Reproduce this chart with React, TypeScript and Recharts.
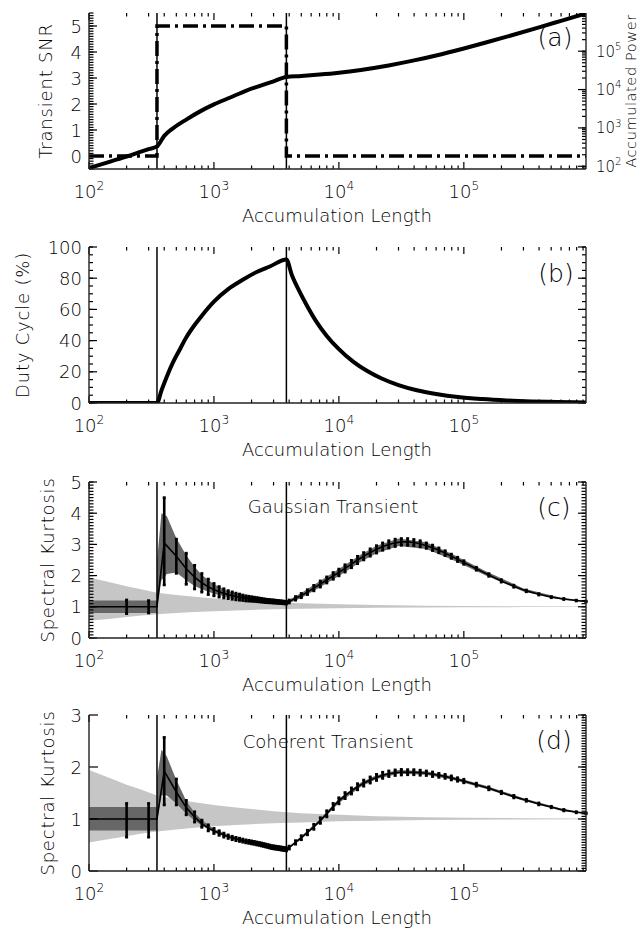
import React from 'react';
import { ComposedChart, Line, Area, XAxis, YAxis, ReferenceLine, ErrorBar } from 'recharts';

const FONT = '"DejaVu Sans", "Liberation Sans", sans-serif';
const INK = '#000';
const LIGHT = '#c6c6c6';
const DARK = '#676767';

// transient edges, in samples
const transientStart = 350;
const transientEnd = 3800;

// shared x axis (accumulation length)
const xDomain = [100, 950000];
const xDecades = [100, 1000, 10000, 100000];

// (a) transient SNR (left axis) and accumulated power (right axis)
const snrN = [100, 350, 350, 3800, 3800, 950000];
const snrVal = [0, 0, 5, 5, 0, 0];
const powN = [100, 150, 200, 250, 300, 350, 400, 475, 600, 775, 1000, 1350, 1800, 2400, 3000, 3800, 5000, 7000, 10000, 15000, 25000, 40000, 60000, 100000, 150000, 250000, 400000, 600000, 950000];
const powVal = [90, 135, 180, 230, 280, 330, 620, 1000, 1650, 2700, 4100, 6200, 9300, 12800, 16400, 21300, 22600, 24600, 27500, 32500, 42500, 57500, 77500, 118000, 168000, 268000, 418000, 620000, 970000];

// (b) duty cycle (%)
const dutyN = [100, 350, 380, 420, 470, 530, 600, 700, 800, 1000, 1300, 1700, 2200, 2800, 3800, 4200, 4800, 5500, 6500, 8000, 10000, 13000, 17000, 22000, 30000, 42000, 60000, 90000, 140000, 220000, 350000, 550000, 950000];
const dutyVal = [0, 0, 8, 17, 26, 34, 42, 50, 56, 65, 73, 79, 84, 87.5, 92, 82, 72, 63, 53, 43, 34.5, 26.5, 20.3, 15.7, 11.5, 8.2, 5.8, 3.8, 2.5, 1.6, 1.0, 0.63, 0.36];

// (c),(d) spectral kurtosis: sample points with error bars
const skN = [100, 200, 300, 350,
  400, 500, 600, 700, 800, 900, 1000, 1100, 1200, 1300, 1400, 1500, 1600, 1700, 1800, 1900, 2000, 2100, 2200, 2300, 2400, 2500, 2600, 2700, 2800, 2900, 3000, 3100, 3200, 3300, 3400, 3500, 3600, 3700, 3800,
  4000, 4500, 5000, 5600, 6300, 7100, 8000, 9000, 10000, 11200, 12600, 14100, 15800, 17800, 20000, 22400, 25100, 28200, 31600, 35500, 39800, 44700, 50100, 56200, 63100, 70800, 79400, 89100,
  100000, 125900, 158500, 199500, 251200, 316200, 398100, 501200, 631000, 794300, 950000];

const gaussMean = [1, 1, 1, 1,
  3.05, 2.62, 2.22, 1.95, 1.77, 1.64, 1.55, 1.48, 1.43, 1.39, 1.36, 1.33, 1.31, 1.29, 1.27, 1.26, 1.25, 1.24, 1.23, 1.22, 1.21, 1.2, 1.19, 1.185, 1.18, 1.175, 1.17, 1.165, 1.16, 1.155, 1.15, 1.145, 1.14, 1.135, 1.13,
  1.17, 1.27, 1.36, 1.47, 1.6, 1.73, 1.86, 1.99, 2.1, 2.23, 2.37, 2.5, 2.62, 2.74, 2.84, 2.93, 3.0, 3.05, 3.08, 3.08, 3.06, 3.02, 2.96, 2.89, 2.81, 2.72, 2.62, 2.52,
  2.42, 2.22, 2.02, 1.83, 1.66, 1.51, 1.4, 1.31, 1.25, 1.2, 1.17];
const gaussErr: (number | number[])[] = [0, 0.22, 0.2, 0,
  [1.35, 1.45], 0.55, 0.5, 0.38, 0.3, 0.25, 0.2, 0.17, 0.15, 0.13, 0.12, 0.11, 0.1, 0.09, 0.085, 0.08, 0.075, 0.07, 0.068, 0.065, 0.062, 0.06, 0.058, 0.056, 0.054, 0.052, 0.05, 0.05, 0.048, 0.047, 0.046, 0.045, 0.044, 0.043, 0.042,
  0.05, 0.06, 0.07, 0.08, 0.09, 0.1, 0.1, 0.11, 0.11, 0.12, 0.12, 0.12, 0.12, 0.12, 0.12, 0.12, 0.12, 0.12, 0.11, 0.11, 0.1, 0.1, 0.09, 0.09, 0.08, 0.08, 0.07, 0.07,
  0.06, 0.05, 0.045, 0.04, 0.035, 0.03, 0.025, 0.02, 0.02, 0.015, 0.015];

const cohMean = [1, 1, 1, 1,
  1.92, 1.52, 1.22, 1.04, 0.91, 0.83, 0.77, 0.73, 0.69, 0.66, 0.635, 0.615, 0.6, 0.585, 0.57, 0.56, 0.55, 0.54, 0.53, 0.52, 0.51, 0.5, 0.49, 0.48, 0.47, 0.46, 0.455, 0.45, 0.445, 0.44, 0.435, 0.43, 0.425, 0.42, 0.415,
  0.45, 0.55, 0.64, 0.74, 0.85, 0.97, 1.1, 1.24, 1.35, 1.45, 1.54, 1.62, 1.69, 1.75, 1.8, 1.84, 1.87, 1.89, 1.9, 1.9, 1.9, 1.89, 1.88, 1.86, 1.84, 1.82, 1.79, 1.76,
  1.73, 1.66, 1.59, 1.51, 1.43, 1.36, 1.29, 1.23, 1.17, 1.13, 1.11];
const cohErr: (number | number[])[] = [0, [0.35, 0.3], [0.35, 0.3], 0,
  [0.65, 0.65], 0.25, 0.14, 0.1, 0.07, 0.06, 0.05, 0.045, 0.04, 0.035, 0.034, 0.033, 0.032, 0.031, 0.03, 0.03, 0.03, 0.03, 0.03, 0.03, 0.03, 0.03, 0.03, 0.03, 0.03, 0.03, 0.03, 0.03, 0.03, 0.03, 0.03, 0.03, 0.03, 0.03, 0.03,
  0.03, 0.035, 0.04, 0.045, 0.05, 0.055, 0.06, 0.06, 0.06, 0.06, 0.06, 0.06, 0.06, 0.06, 0.06, 0.06, 0.055, 0.055, 0.055, 0.05, 0.05, 0.05, 0.045, 0.045, 0.04, 0.04, 0.04, 0.035,
  0.035, 0.03, 0.03, 0.025, 0.025, 0.02, 0.02, 0.015, 0.015, 0.012, 0.01];

// spread of the simulated SK values (dark band)
const darkN = [100, 350, 351, 380, 420, 500, 600, 700, 800, 1000, 1300, 1800, 2500, 3800, 5000, 7000, 10000, 15000, 20000, 30000, 50000, 80000, 150000, 300000, 600000, 950000];
const gaussDarkLo = [0.8, 0.8, 1.0, 1.85, 2.05, 2.1, 1.85, 1.67, 1.56, 1.42, 1.3, 1.22, 1.15, 1.08, 1.28, 1.62, 1.99, 2.44, 2.72, 2.95, 2.85, 2.52, 2.0, 1.49, 1.23, 1.15];
const gaussDarkHi = [1.2, 1.2, 2.5, 4.0, 3.9, 3.2, 2.65, 2.28, 2.02, 1.72, 1.5, 1.35, 1.27, 1.18, 1.44, 1.82, 2.21, 2.68, 2.96, 3.19, 3.07, 2.7, 2.14, 1.59, 1.29, 1.19];
const cohDarkLo = [0.78, 0.78, 1.0, 1.45, 1.45, 1.3, 1.1, 0.97, 0.87, 0.74, 0.64, 0.55, 0.48, 0.4, 0.61, 0.93, 1.31, 1.62, 1.77, 1.87, 1.85, 1.76, 1.58, 1.35, 1.16, 1.1];
const cohDarkHi = [1.23, 1.23, 1.8, 2.33, 2.2, 1.75, 1.35, 1.12, 0.98, 0.81, 0.69, 0.59, 0.51, 0.43, 0.67, 0.99, 1.39, 1.7, 1.84, 1.94, 1.92, 1.82, 1.64, 1.4, 1.2, 1.12];

// noise-only SK threshold band (light band)
const lightN = [100, 150, 200, 250, 350, 500, 700, 1000, 1500, 2000, 3000, 5000, 10000, 20000, 50000, 100000, 300000, 950000];
const lightLo = [0.55, 0.62, 0.67, 0.71, 0.76, 0.8, 0.83, 0.86, 0.885, 0.9, 0.92, 0.935, 0.955, 0.967, 0.98, 0.985, 0.99, 0.995];
const lightHi = [1.94, 1.78, 1.66, 1.58, 1.45, 1.38, 1.32, 1.27, 1.22, 1.19, 1.15, 1.11, 1.08, 1.055, 1.035, 1.025, 1.015, 1.008];

// ---- tables for recharts ----
const zipXY = (xs: number[], ys: number[]) => xs.map((n, i) => ({ n, v: ys[i] }));
const zipBand = (xs: number[], lo: number[], hi: number[]) => xs.map((n, i) => ({ n, band: [lo[i], hi[i]] }));
const zipErr = (xs: number[], m: number[], e: (number | number[])[]) => xs.map((n, i) => ({ n, v: m[i], err: e[i] }));

const snrData = zipXY(snrN, snrVal);
const powData = zipXY(powN, powVal);
const dutyData = zipXY(dutyN, dutyVal);
const lightData = zipBand(lightN, lightLo, lightHi);
const gaussDark = zipBand(darkN, gaussDarkLo, gaussDarkHi);
const cohDark = zipBand(darkN, cohDarkLo, cohDarkHi);
const gaussData = zipErr(skN, gaussMean, gaussErr);
const cohData = zipErr(skN, cohMean, cohErr);

// ---- ticks ----
const logTicks = (decades: number[], lo: number, hi: number) =>
  decades.flatMap(d => [1, 2, 3, 4, 5, 6, 7, 8, 9].map(k => k * d)).filter(v => v >= lo && v <= hi);
const linTicks = (lo: number, hi: number, step: number) => {
  const n = Math.round((hi - lo) / step);
  return Array.from({ length: n + 1 }, (_, i) => +(lo + i * step).toFixed(4));
};

const xTicks = logTicks(xDecades, xDomain[0], xDomain[1]);

// plot box size in px, used to turn tick lengths into data units
const PLOT_W = 497;
const PLOT_H = 156;
const xSpan = Math.log10(xDomain[1] / xDomain[0]);
const xFromLeft = (px: number) => xDomain[0] * Math.pow(10, (px / PLOT_W) * xSpan);
const xFromRight = (px: number) => xDomain[1] / Math.pow(10, (px / PLOT_W) * xSpan);

const Pow = ({ v, size }: { v: number; size: number }) => (
  <>
    <tspan>10</tspan>
    <tspan dy={-size * 0.45} fontSize={size * 0.68}>{Math.round(Math.log10(v))}</tspan>
  </>
);

function AxisLabel(props: any) {
  const { x, y, payload, side, labeled, log, fontSize } = props;
  if (!labeled) return <g />;
  const v = payload.value;
  const fs = fontSize || 18;
  const common = { fontSize: fs, fontFamily: FONT, fontWeight: 300, fill: INK };
  if (side === 'bottom')
    return <text x={x} y={y + 29} textAnchor="middle" {...common}><Pow v={v} size={fs} /></text>;
  if (side === 'left')
    return <text x={x - 7} y={y + 6.5} textAnchor="end" {...common}>{v}</text>;
  return <text x={x + 10} y={y + 5.5} textAnchor="start" {...common}>{log ? <Pow v={v} size={fs} /> : v}</text>;
}

type YSpec = {
  domain: number[];
  majors: number[];
  minors: number[];
  labeled?: boolean;
  log?: boolean;
  majorLen: number;
  minorLen: number;
  fontSize?: number;
};

const axisLine = { stroke: '#222', strokeWidth: 1.4 };

const seg = (key: string, yId: string, x1: number, y1: number, x2: number, y2: number) => (
  <ReferenceLine key={key} xAxisId="b" yAxisId={yId} segment={[{ x: x1, y: y1 }, { x: x2, y: y2 }]}
    stroke={INK} strokeWidth={1.2} ifOverflow="visible" />
);

// inward IDL-style tick marks on all four sides of the box
function boxTicks(left: YSpec, right: YSpec, rightId: string) {
  const out: React.ReactNode[] = [];
  const [lo, hi] = left.domain;
  const dy = (px: number) => (px / PLOT_H) * (hi - lo);
  const yTicks = (s: YSpec) => [
    ...(s.minorLen > 0 ? s.minors.map(v => [v, s.minorLen]) : []),
    ...s.majors.map(v => [v, s.majorLen]),
  ];
  yTicks(left).forEach(([v, len], i) => out.push(seg(`l${i}`, 'L', xDomain[0], v, xFromLeft(len), v)));
  yTicks(right).forEach(([v, len], i) => out.push(seg(`r${i}`, rightId, xDomain[1], v, xFromRight(len), v)));
  xTicks.forEach((v, i) => {
    const len = xDecades.includes(v) ? 7 : 3.5;
    out.push(seg(`b${i}`, 'L', v, lo, v, lo + dy(len)));
    out.push(seg(`t${i}`, 'L', v, hi, v, hi - dy(len)));
  });
  return out;
}

function Panel({ top, left, right, children }: { top: number; left: YSpec; right: YSpec; children: React.ReactNode }) {
  const yAxis = (id: string, side: 'left' | 'right', s: YSpec) => (
    <YAxis yAxisId={id} orientation={side} type="number" scale={s.log ? 'log' : 'linear'}
      domain={s.domain} allowDataOverflow ticks={s.majors} interval={0} width={side === 'left' ? 60 : 50}
      stroke={INK} tickSize={0} tickMargin={0} tickLine={false} axisLine={axisLine}
      tick={(p: any) => <AxisLabel {...p} side={side} labeled={s.labeled} log={s.log} fontSize={s.fontSize} />} />
  );
  return (
    <div style={{ position: 'absolute', left: 0, top }}>
      <ComposedChart width={643} height={228} margin={{ top: 13, right: 7, bottom: 9, left: 29 }}>
        <XAxis xAxisId="b" dataKey="n" type="number" scale="log" domain={xDomain} allowDataOverflow
          ticks={xDecades} interval={0} height={50} stroke={INK} tickSize={0} tickMargin={0} tickLine={false} axisLine={axisLine}
          tick={(p: any) => <AxisLabel {...p} side="bottom" labeled />} />
        <XAxis xAxisId="t" orientation="top" dataKey="n" type="number" scale="log" domain={xDomain} allowDataOverflow
          ticks={xDecades} interval={0} height={0} stroke={INK} tickSize={0} tickLine={false} axisLine={axisLine} tick={false} />
        {yAxis('L', 'left', left)}
        {yAxis('R', 'right', right)}
        {children}
        {boxTicks(left, right, 'R')}
      </ComposedChart>
    </div>
  );
}

const edges = [transientStart, transientEnd].map(x => (
  <ReferenceLine key={x} x={x} xAxisId="b" yAxisId="L" stroke={INK} strokeWidth={1.5} />
));

const bands = (dark: any[]) => [
  <Area key="light" data={lightData} dataKey="band" xAxisId="b" yAxisId="L" type="linear" stroke="none"
    fill={LIGHT} fillOpacity={1} isAnimationActive={false} dot={false} activeDot={false} />,
  <Area key="dark" data={dark} dataKey="band" xAxisId="b" yAxisId="L" type="linear" stroke="none"
    fill={DARK} fillOpacity={1} isAnimationActive={false} dot={false} activeDot={false} />,
];

const meanLine = (data: any[]) => (
  <Line data={data} dataKey="v" xAxisId="b" yAxisId="L" type="linear" stroke={INK} strokeWidth={1.6}
    dot={false} activeDot={false} isAnimationActive={false}>
    <ErrorBar dataKey="err" direction="y" width={1.5} stroke={INK} strokeWidth={2.6} isAnimationActive={false} />
  </Line>
);

const textStyle = { fontFamily: FONT, fontWeight: 300, fill: INK } as const;

function YTitle({ x, y, text, size = 18, spacing = 0.8 }: { x: number; y: number; text: string; size?: number; spacing?: number }) {
  return (
    <text transform={`translate(${x},${y}) rotate(-90)`} textAnchor="middle" dominantBaseline="central"
      fontSize={size} letterSpacing={spacing} {...textStyle}>{text}</text>
  );
}

export default function App() {
  const plotBottoms = [169, 403, 638, 871];
  return (
    <div style={{ position: 'absolute', left: 0, top: 0, width: 643, height: 931, background: '#fff', overflow: 'hidden' }}>
      <Panel top={0}
        left={{ domain: [-0.5, 5.5], majors: [0, 1, 2, 3, 4, 5], minors: linTicks(-0.5, 5.5, 0.1), labeled: true, majorLen: 8, minorLen: 4.5 }}
        right={{ domain: [85, 990000], log: true, majors: [100, 1000, 10000, 100000], minors: logTicks([10, 100, 1000, 10000, 100000], 85, 990000), labeled: true, majorLen: 8, minorLen: 4, fontSize: 15 }}>
        {edges}
        <Line data={powData} dataKey="v" xAxisId="b" yAxisId="R" type="monotone" stroke={INK} strokeWidth={4}
          dot={false} activeDot={false} isAnimationActive={false} />
        <Line data={snrData} dataKey="v" xAxisId="b" yAxisId="L" type="linear" stroke={INK} strokeWidth={3.5}
          strokeDasharray="15 5 3 5" dot={false} activeDot={false} isAnimationActive={false} />
      </Panel>

      <Panel top={234}
        left={{ domain: [0, 100], majors: [0, 20, 40, 60, 80, 100], minors: linTicks(0, 100, 5), labeled: true, majorLen: 8, minorLen: 4 }}
        right={{ domain: [0, 100], majors: [0, 20, 40, 60, 80, 100], minors: linTicks(0, 100, 5), majorLen: 8, minorLen: 4 }}>
        {edges}
        <Line data={dutyData} dataKey="v" xAxisId="b" yAxisId="L" type="monotone" stroke={INK} strokeWidth={4}
          dot={false} activeDot={false} isAnimationActive={false} />
      </Panel>

      <Panel top={469}
        left={{ domain: [0, 5], majors: [0, 1, 2, 3, 4, 5], minors: linTicks(0, 5, 0.1), labeled: true, majorLen: 8, minorLen: 4.5 }}
        right={{ domain: [0, 5], majors: [0, 1, 2, 3, 4, 5], minors: linTicks(0, 5, 0.1), majorLen: 8, minorLen: 4.5 }}>
        {bands(gaussDark)}
        {edges}
        {meanLine(gaussData)}
      </Panel>

      <Panel top={702}
        left={{ domain: [0, 3], majors: [0, 1, 2, 3], minors: [], labeled: true, majorLen: 9, minorLen: 0 }}
        right={{ domain: [0, 3], majors: [0, 1, 2, 3], minors: linTicks(0, 3, 0.05), majorLen: 8, minorLen: 4.5 }}>
        {bands(cohDark)}
        {edges}
        {meanLine(cohData)}
      </Panel>

      <svg width={643} height={931} style={{ position: 'absolute', left: 0, top: 0, pointerEvents: 'none' }}>
        <YTitle x={45} y={91} text="Transient SNR" />
        <YTitle x={631} y={91} text="Accumulated Power" size={14.5} spacing={0.6} />
        <YTitle x={22} y={325} text="Duty Cycle (%)" />
        <YTitle x={47} y={560} text="Spectral Kurtosis" />
        <YTitle x={47} y={793} text="Spectral Kurtosis" />
        {plotBottoms.map(b => (
          <text key={b} x={337} y={b + 53} textAnchor="middle" fontSize={18} {...textStyle}>Accumulation Length</text>
        ))}
        <text x={555} y={46} textAnchor="middle" fontSize={25} {...textStyle}>(a)</text>
        <text x={556} y={282} textAnchor="middle" fontSize={25} {...textStyle}>(b)</text>
        <text x={554} y={516} textAnchor="middle" fontSize={25} {...textStyle}>(c)</text>
        <text x={554} y={749} textAnchor="middle" fontSize={25} {...textStyle}>(d)</text>
        <text x={333} y={513} textAnchor="middle" fontSize={18} {...textStyle}>Gaussian Transient</text>
        <text x={328} y={748} textAnchor="middle" fontSize={18} {...textStyle}>Coherent Transient</text>
      </svg>
    </div>
  );
}
